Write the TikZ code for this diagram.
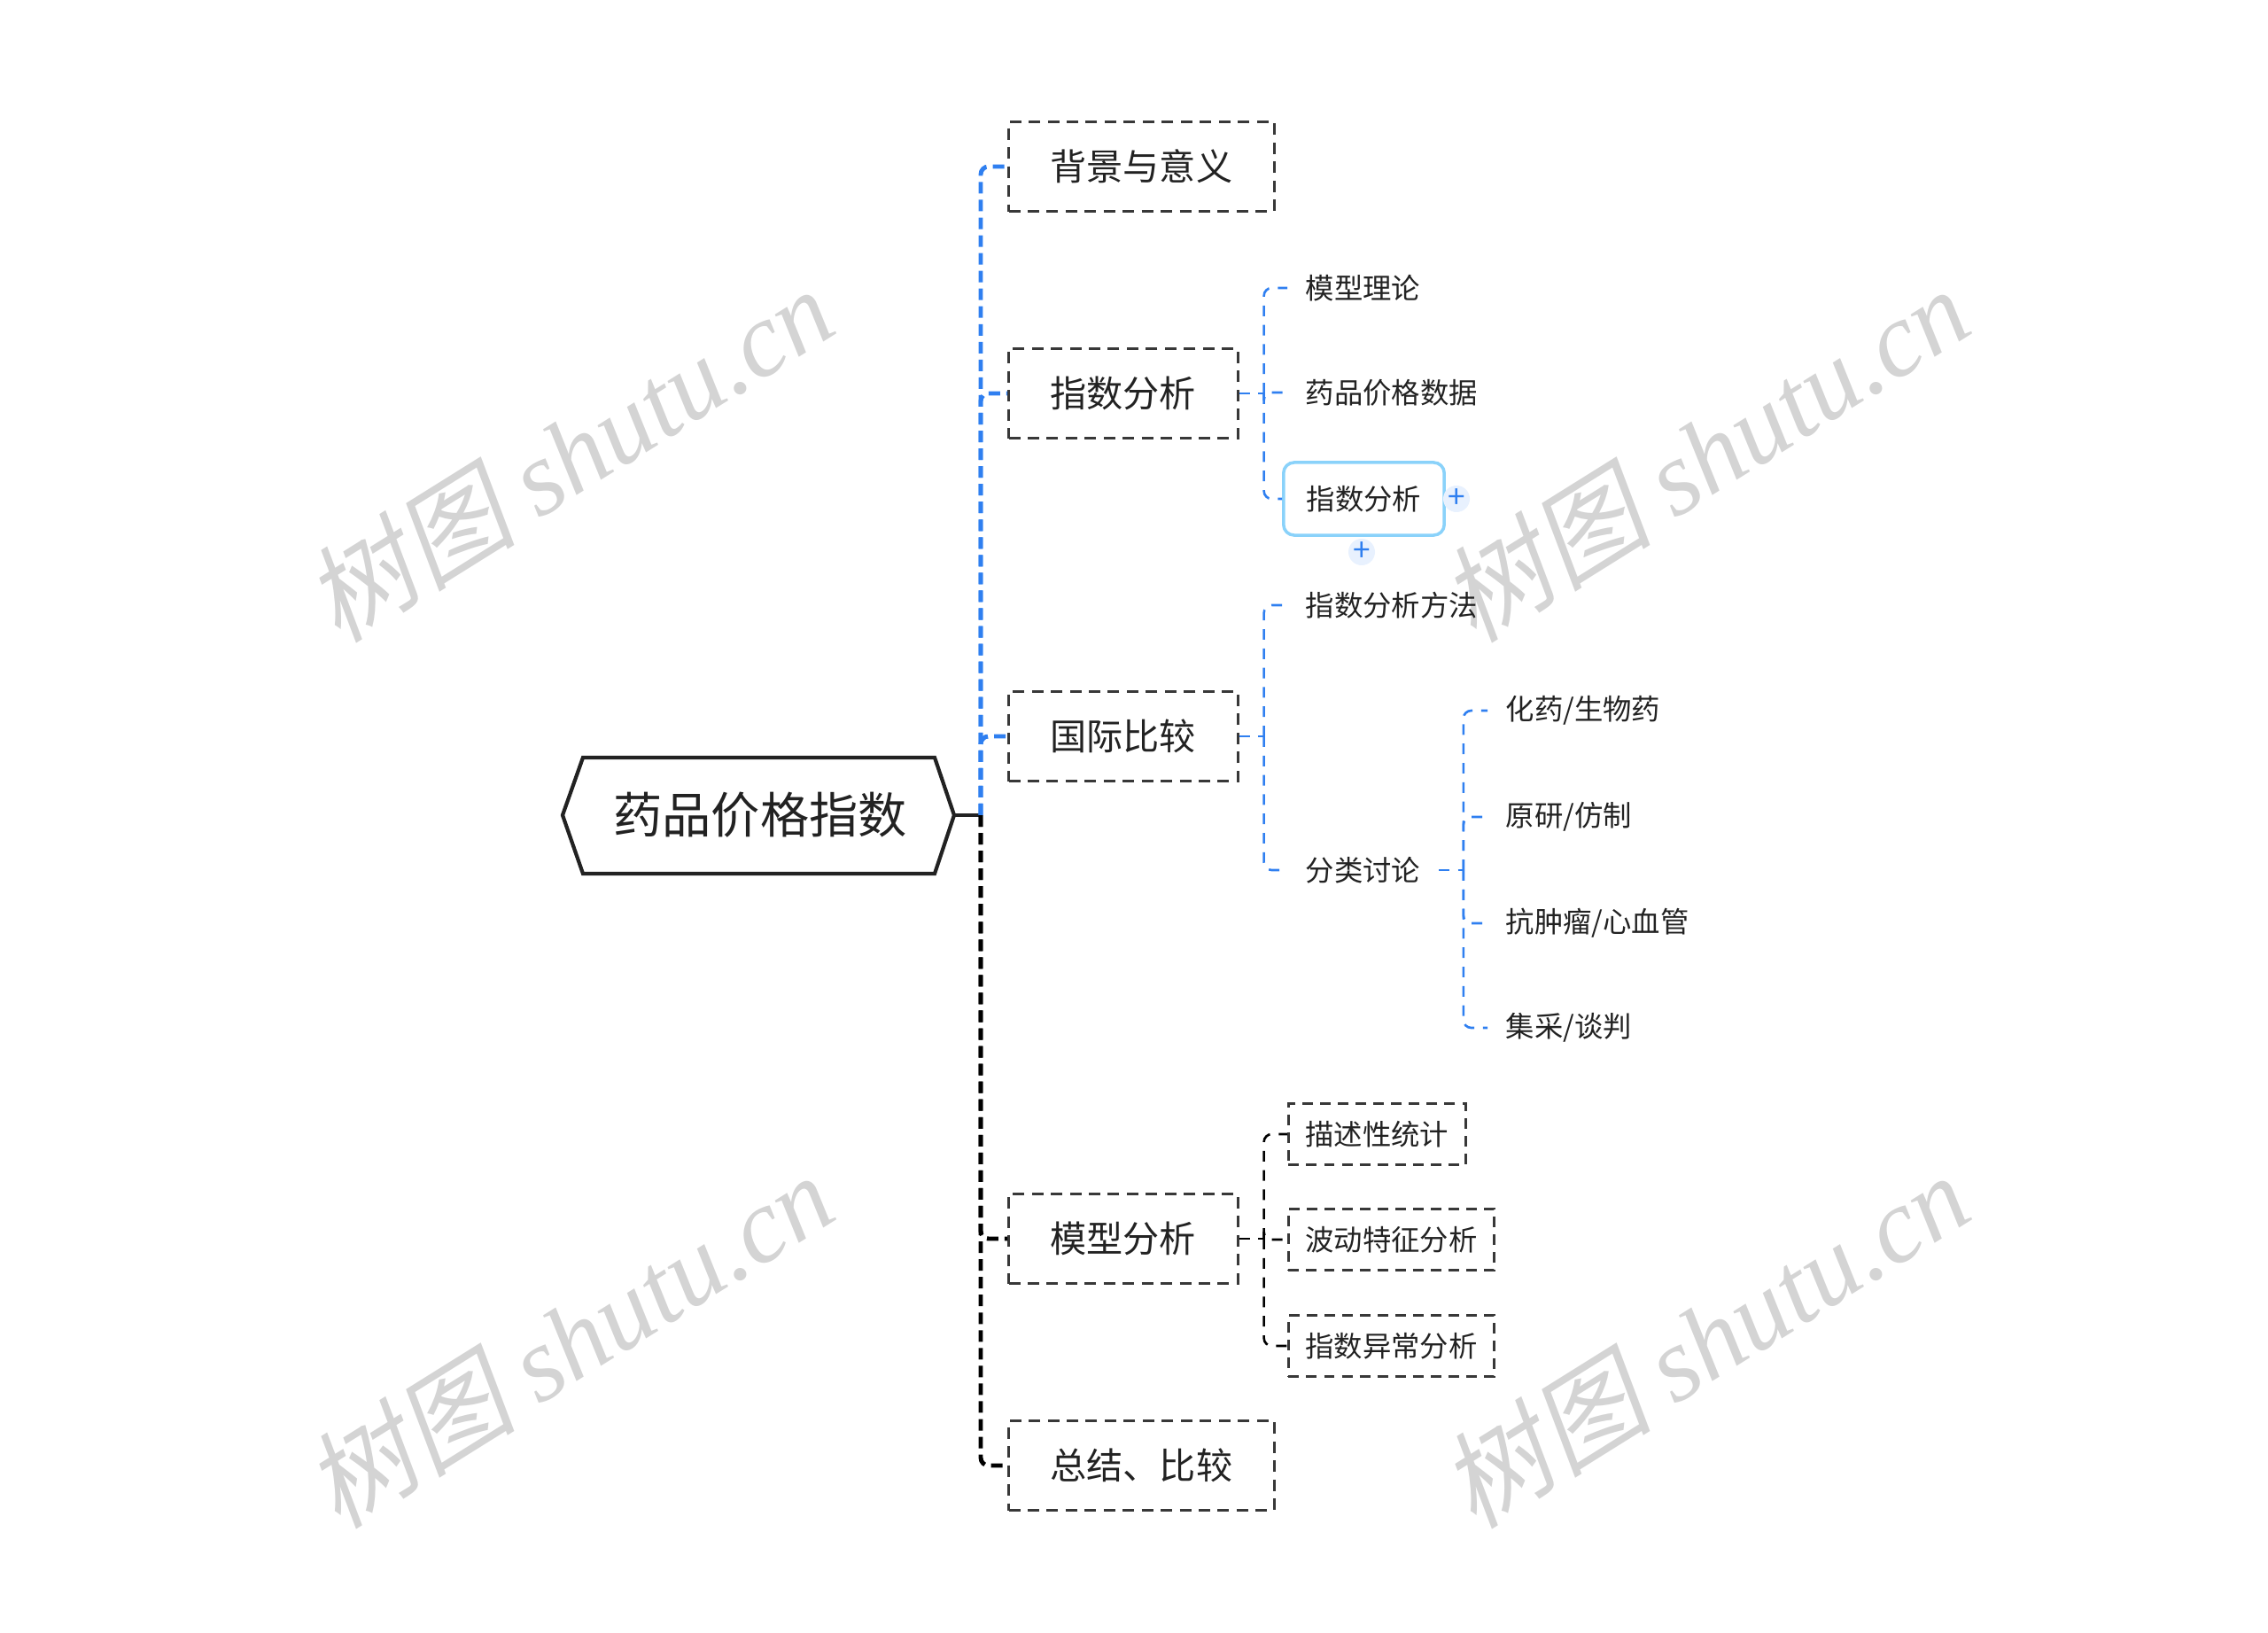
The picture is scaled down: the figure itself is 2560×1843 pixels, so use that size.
\documentclass[tikz,border=0pt]{standalone}
\usepackage{fontspec}
\setmainfont{Noto Sans CJK SC}
\newfontfamily\markcjk[FakeSlant=0.2]{Noto Sans CJK SC}
\newfontfamily\marklat{Liberation Serif}
\definecolor{MapBlue}{HTML}{2F7FF0}
\definecolor{MapInk}{HTML}{222222}
\definecolor{SelBlue}{HTML}{8AD2FA}
\definecolor{PlusFill}{HTML}{E8F1FE}
\definecolor{MarkGray}{HTML}{D4D4D4}
\usetikzlibrary{positioning, calc}

\begin{document}
\begin{tikzpicture}[x=0.01cm, y=-0.01cm,
  trunk/.style={line width=1.4pt, dash pattern=on 3.7pt off 2pt, rounded corners=2.5pt},
  twig/.style={line width=0.75pt, dash pattern=on 3.4pt off 2.8pt, rounded corners=2.5pt},
  topic/.style={draw=MapInk!90, line width=0.85pt, dash pattern=on 3.7pt off 2.4pt,
    anchor=west, inner xsep=0.47cm, inner ysep=0pt, minimum height=1.01cm,
    font=\fontsize{11.7pt}{14pt}\selectfont, text=MapInk},
  leaf/.style={anchor=west, inner xsep=0.2cm, inner ysep=0pt,
    font=\fontsize{9.2pt}{11pt}\selectfont, text=MapInk},
  leafbox/.style={leaf, draw=MapInk!90, line width=0.8pt, dash pattern=on 3.4pt off 2.3pt,
    inner xsep=0.19cm, minimum height=0.69cm},
  wmark/.style={rotate=32, text=MarkGray, font=\fontsize{34pt}{34pt}\selectfont},
  plusdot/.style={circle, fill=PlusFill, minimum size=0.3cm, inner sep=0pt,
    text=MapBlue, font=\fontsize{10pt}{10pt}\selectfont}]
  \useasboundingbox (0,0) rectangle (2560,1843);
  % watermarks
  \node[wmark] (wmA) at (642,512) {{\markcjk 树图} {\marklat\itshape shutu.cn}};
  \node[wmark] (wmB) at (1924,512) {{\markcjk 树图} {\marklat\itshape shutu.cn}};
  \node[wmark] (wmC) at (642,1512) {{\markcjk 树图} {\marklat\itshape shutu.cn}};
  \node[wmark] (wmD) at (1924,1512) {{\markcjk 树图} {\marklat\itshape shutu.cn}};
  % central topic
  \draw[line width=1.2pt, MapInk] (635,920) -- (658,855) -- (1055,855) -- (1077,920)
    -- (1055,986) -- (658,986) -- cycle;
  \node[text=MapInk, font=\fontsize{15.7pt}{18pt}\selectfont] (root) at (858,920) {药品价格指数};
  \coordinate (rootE) at (1077,920);
  \coordinate (hub) at (1107,920);
  % main topics
  \node[topic] (bg) at (1137,188) {背景与意义};
  \node[topic] (zs) at (1137,444) {指数分析};
  \node[topic] (gj) at (1137,831) {国际比较};
  \node[topic] (mx) at (1137,1398) {模型分析};
  \node[topic] (zj) at (1137,1654) {总结、比较};
  \draw[line width=1.2pt, MapInk] (rootE) -- (hub);
  \foreach \t in {bg, zs, gj}
    \draw[trunk, MapBlue] (hub) |- (\t.west);
  \foreach \t in {mx, zj}
    \draw[trunk, black] (hub) |- (\t.west);
  % 指数分析
  \node[leaf] (zsTheory) at (1453,325) {模型理论};
  \node[leaf] (zsData) at (1453,443) {药品价格数据};
  \node[leaf, draw=SelBlue, line width=1pt, rounded corners=0.12cm, inner xsep=0.26cm,
    minimum height=0.82cm] (zsSel) at (1447,563) {指数分析};
  \node[plusdot] (plusR) at (1644,563) {+};
  \node[plusdot] (plusB) at (1537,623) {+};
  \coordinate (zsJ) at ($(zs.east)+(28,0)$);
  \draw[twig, MapBlue] (zs.east) -- (zsJ);
  \foreach \c in {zsTheory, zsData, zsSel}
    \draw[twig, MapBlue] (zsJ) |- (\c.west);
  % 国际比较
  \node[leaf] (gjMethod) at (1453,683) {指数分析方法};
  \node[leaf] (gjClass) at (1453,982) {分类讨论};
  \coordinate (gjJ) at ($(gj.east)+(28,0)$);
  \draw[twig, MapBlue] (gj.east) -- (gjJ);
  \foreach \c in {gjMethod, gjClass}
    \draw[twig, MapBlue] (gjJ) |- (\c.west);
  % 分类讨论
  \node[leaf] (clsA) at (1679,802) {化药/生物药};
  \node[leaf] (clsB) at (1679,922) {原研/仿制};
  \node[leaf] (clsC) at (1679,1042) {抗肿瘤/心血管};
  \node[leaf] (clsD) at (1679,1160) {集采/谈判};
  \coordinate (clsJ) at ($(gjClass.east)+(28,0)$);
  \draw[twig, MapBlue] (gjClass.east) -- (clsJ);
  \foreach \c in {clsA, clsB, clsC, clsD}
    \draw[twig, MapBlue] (clsJ) |- (\c.west);
  % 模型分析
  \node[leafbox] (mxDesc) at (1453,1280) {描述性统计};
  \node[leafbox] (mxVol) at (1453,1399) {波动特征分析};
  \node[leafbox] (mxOdd) at (1453,1519) {指数异常分析};
  \coordinate (mxJ) at ($(mx.east)+(28,0)$);
  \draw[twig, black] (mx.east) -- (mxJ);
  \foreach \c in {mxDesc, mxVol, mxOdd}
    \draw[twig, black] (mxJ) |- (\c.west);
\end{tikzpicture}
\end{document}
